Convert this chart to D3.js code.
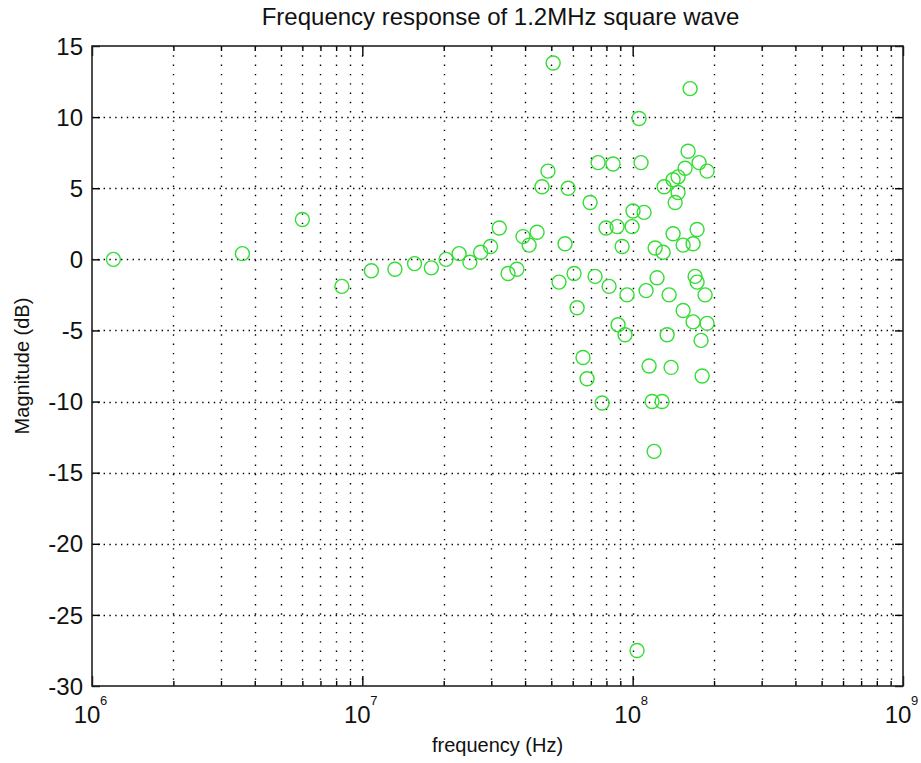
<!DOCTYPE html>
<html>
<head>
<meta charset="utf-8">
<script src="https://cdn.jsdelivr.net/npm/d3@7"></script>
<style>
  html, body { margin: 0; padding: 0; background: #fff; }
  svg { display: block; }
  text { font-family: "Liberation Sans", Arial, sans-serif; fill: #111; }
</style>
</head>
<body>
<svg id="chart" width="921" height="763"></svg>
<script>
// ---- data ----
const titleText = "Frequency response of 1.2MHz square wave";
const xLabelText = "frequency (Hz)";
const yLabelText = "Magnitude (dB)";

// frequency of each spectral line, MHz
const freqMHz = [
  1.2, 3.6, 6.0, 8.4, 10.8, 13.2, 15.6, 18.0, 20.4, 22.8, 25.0, 27.4, 29.8, 32.1, 34.6, 37.3,
  39.3, 41.4, 44.3, 46.2, 48.6, 50.8, 53.4, 56.2, 57.7, 60.7, 62.3, 65.5, 67.8, 69.6,
  72.6, 74.5, 77.1, 79.7, 81.8, 84.6, 87.6, 88.3, 91.4, 93.7, 95.3, 99.5, 100.3, 103.8,
  105.6, 107.4, 110.2, 112.1, 115.0, 118.0, 120.0, 121.1, 123.1, 128.5, 129.6, 130.7,
  134.1, 136.4, 138.7, 141.1, 143.6, 147.2, 141.1, 147.2, 153.7, 153.7, 156.3, 160.3, 163.1,
  167.3, 167.3, 170.2, 173.1, 173.1, 176.1, 179.1, 180.7, 185.3, 188.5, 188.5
];
// magnitude of each line, dB
const magDB = [
  0.0, 0.4, 2.8, -1.9, -0.8, -0.7, -0.3, -0.6, 0.0, 0.4, -0.2, 0.5, 0.9, 2.2, -1.0, -0.7,
  1.6, 1.0, 1.9, 5.1, 6.2, 13.8, -1.6, 1.1, 5.0, -1.0, -3.4, -6.9, -8.4, 4.0,
  -1.2, 6.8, -10.1, 2.2, -1.9, 6.7, 2.3, -4.6, 0.9, -5.3, -2.5, 2.3, 3.4, -27.5,
  9.9, 6.8, 3.3, -2.2, -7.5, -10.0, -13.5, 0.8, -1.3, -10.0, 0.5, 5.1,
  -5.3, -2.5, -7.6, 1.8, 4.0, 5.8, 5.6, 4.7, 1.0, -3.6, 6.4, 7.6, 12.0,
  1.1, -4.4, -1.2, -1.6, 2.1, 6.8, -5.7, -8.2, -2.5, 6.2, -4.5
];

const yTicks = [-30, -25, -20, -15, -10, -5, 0, 5, 10, 15];
const xDecades = [6, 7, 8, 9];          // exponents of 10 for labelled ticks
const minorMults = [2, 3, 4, 5, 6, 7, 8, 9];

// ---- layout ----
const W = 921, H = 763;
const plot = { left: 92, right: 903, top: 46, bottom: 686 };

const svg = d3.select("#chart");
svg.append("rect").attr("width", W).attr("height", H).attr("fill", "#fff");

const x = d3.scaleLog().domain([1e6, 1e9]).range([plot.left, plot.right]);
const y = d3.scaleLinear().domain([-30, 15]).range([plot.bottom, plot.top]);

const minorVals = [];
xDecades.slice(0, -1).forEach(e => minorMults.forEach(m => minorVals.push(m * Math.pow(10, e))));
const majorVals = xDecades.map(e => Math.pow(10, e));

// ---- grid ----
const grid = svg.append("g").attr("stroke", "#000").attr("stroke-width", 1.4);
grid.selectAll("line.vg")
  .data(minorVals.concat(majorVals.slice(1, -1)))
  .join("line")
  .attr("x1", d => Math.round(x(d)) + 0.5).attr("x2", d => Math.round(x(d)) + 0.5)
  .attr("y1", plot.top).attr("y2", plot.bottom)
  .attr("stroke-dasharray", "1.4,7.9");
grid.selectAll("line.hg")
  .data(yTicks.slice(1, -1))
  .join("line")
  .attr("x1", plot.left).attr("x2", plot.right)
  .attr("y1", d => Math.round(y(d)) + 0.5).attr("y2", d => Math.round(y(d)) + 0.5)
  .attr("stroke-dasharray", "1.4,4.4");

// ---- axes (d3 axes, ticks inward, mirrored) ----
const axisStyle = g => {
  g.select(".domain").remove();
  g.selectAll("line").attr("stroke", "#000").attr("stroke-width", 1.4);
};
svg.append("g").attr("transform", `translate(0,${plot.bottom})`)
  .call(d3.axisBottom(x).tickValues(majorVals).tickSize(-10).tickFormat("")).call(axisStyle);
svg.append("g").attr("transform", `translate(0,${plot.bottom})`)
  .call(d3.axisBottom(x).tickValues(minorVals).tickSize(-5).tickFormat("")).call(axisStyle);
svg.append("g").attr("transform", `translate(0,${plot.top})`)
  .call(d3.axisTop(x).tickValues(majorVals).tickSize(-10).tickFormat("")).call(axisStyle);
svg.append("g").attr("transform", `translate(0,${plot.top})`)
  .call(d3.axisTop(x).tickValues(minorVals).tickSize(-5).tickFormat("")).call(axisStyle);
svg.append("g").attr("transform", `translate(${plot.left},0)`)
  .call(d3.axisLeft(y).tickValues(yTicks).tickSize(-8).tickFormat("")).call(axisStyle);
svg.append("g").attr("transform", `translate(${plot.right},0)`)
  .call(d3.axisRight(y).tickValues(yTicks).tickSize(-8).tickFormat("")).call(axisStyle);

svg.append("rect")
  .attr("x", plot.left).attr("y", plot.top)
  .attr("width", plot.right - plot.left).attr("height", plot.bottom - plot.top)
  .attr("fill", "none").attr("stroke", "#222").attr("stroke-width", 1.6);

// ---- tick labels ----
svg.append("g").selectAll("text")
  .data(yTicks)
  .join("text")
  .attr("x", plot.left - 9)
  .attr("y", d => y(d))
  .attr("dy", "0.36em")
  .attr("text-anchor", "end")
  .attr("font-size", 24)
  .text(d => d);

const xl = svg.append("g").selectAll("g")
  .data(xDecades)
  .join("g")
  .attr("transform", d => `translate(${x(Math.pow(10, d))},0)`);
xl.append("text")
  .attr("x", -5).attr("y", 723)
  .attr("text-anchor", "middle")
  .attr("font-size", 24)
  .text("10");
xl.append("text")
  .attr("x", 8).attr("y", 705)
  .attr("text-anchor", "start")
  .attr("font-size", 13)
  .text(d => d);

// ---- titles ----
svg.append("text")
  .attr("x", (plot.left + plot.right) / 2 + 3).attr("y", 25)
  .attr("text-anchor", "middle").attr("font-size", 24)
  .text(titleText);
svg.append("text")
  .attr("x", (plot.left + plot.right) / 2).attr("y", 752)
  .attr("text-anchor", "middle").attr("font-size", 20)
  .text(xLabelText);
svg.append("text")
  .attr("transform", `translate(29,${(plot.top + plot.bottom) / 2}) rotate(-90)`)
  .attr("text-anchor", "middle").attr("font-size", 20)
  .text(yLabelText);

// ---- markers ----
const pts = freqMHz.map((f, i) => ({ f: f * 1e6, m: magDB[i] }));
svg.append("g").selectAll("circle")
  .data(pts)
  .join("circle")
  .attr("cx", d => x(d.f))
  .attr("cy", d => y(d.m))
  .attr("r", 7)
  .attr("fill", "none")
  .attr("stroke", "#33dd33")
  .attr("stroke-width", 1.4);
</script>
</body>
</html>
